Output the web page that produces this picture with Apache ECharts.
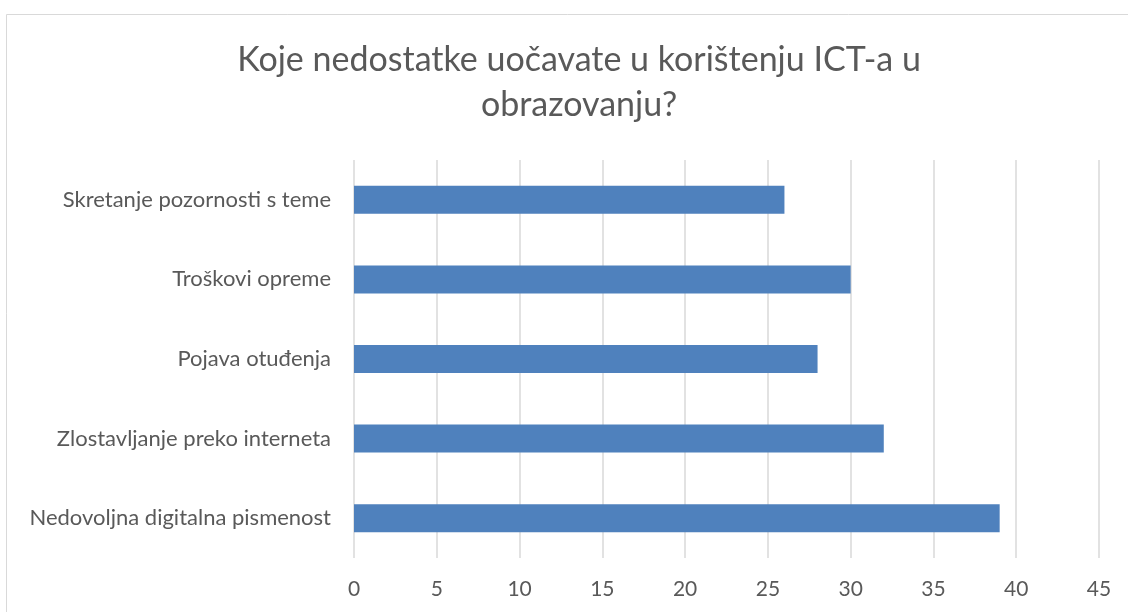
<!DOCTYPE html>
<html>
<head>
<meta charset="utf-8">
<script src="https://cdn.jsdelivr.net/npm/echarts@6/dist/echarts.min.js"></script>
<style>
  html, body { margin: 0; padding: 0; background: #fff; }
  #chart { width: 1128px; height: 612px; }
</style>
</head>
<body>
<div id="chart"></div>
<script>
// kategorije odozdo prema gore (kao u Excelu)
const categories = [
    'Nedovoljna digitalna pismenost',
    'Zlostavljanje preko interneta',
    'Pojava otuđenja',
    'Troškovi opreme',
    'Skretanje pozornosti s teme'
];
const values = [39, 32, 28, 30, 26];
const xTicks = { min: 0, max: 45, step: 5 };
const titleText = 'Koje nedostatke uočavate u korištenju ICT-a u\nobrazovanju?';

let chart = echarts.init(document.getElementById('chart'));
const font = 'Lato, "Open Sans", sans-serif';

let option = {
    animation: false,
    textStyle: { fontFamily: font },
    graphic: [{
        type: 'rect',
        shape: { x: 6.5, y: 14.5, width: 1300, height: 800 },
        style: { fill: 'none', stroke: '#d9d9d9', lineWidth: 1 },
        z: -1
    }],
    title: {
        text: titleText,
        left: 574,
        top: 33,
        textAlign: 'center',
        textStyle: {
            fontFamily: font,
            fontSize: 34,
            fontWeight: 'normal',
            color: '#595959',
            lineHeight: 45
        }
    },
    grid: { left: 354, right: 29, top: 160, bottom: 54, containLabel: false },
    xAxis: {
        type: 'value',
        min: xTicks.min,
        max: xTicks.max,
        interval: xTicks.step,
        axisLine: { show: false },
        axisTick: { show: false },
        axisLabel: { color: '#595959', fontSize: 21, margin: 21, fontFamily: font },
        splitLine: { show: true, lineStyle: { color: '#d9d9d9', width: 1.5 } }
    },
    yAxis: {
        type: 'category',
        data: categories,
        axisLine: { show: false },
        axisTick: { show: false },
        splitLine: { show: false },
        axisLabel: { color: '#595959', fontSize: 22, margin: 23, fontFamily: font }
    },
    series: [{
        type: 'bar',
        data: values,
        barWidth: 28,
        itemStyle: { color: '#4f81bd' }
    }]
};
chart.setOption(option);

window.onresize = function () {
    chart.resize();
};
</script>
</body>
</html>
